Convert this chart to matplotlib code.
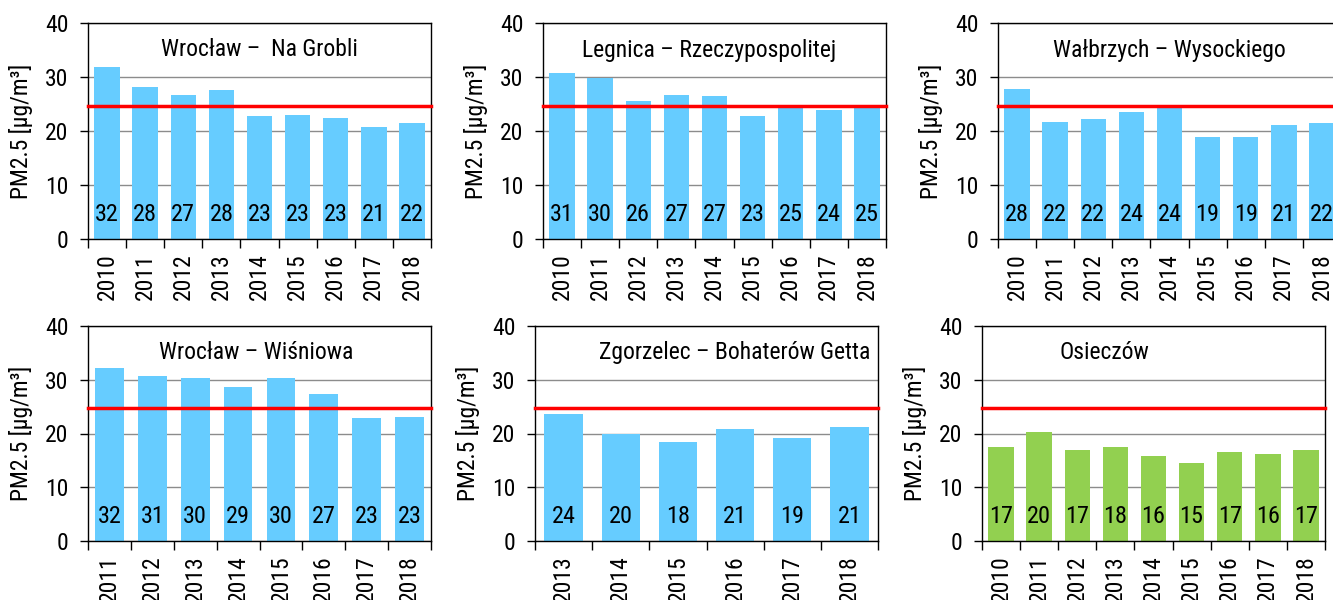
"""
PM2.5 annual means at six stations, 2010-2018, vs. the 25 ug/m3 limit.

Six bar panels (2x3), value printed at the foot of each bar, red line
for the limit value.
"""
#%%
import matplotlib
matplotlib.use("Agg")  # no display
import matplotlib.pyplot as plt
from matplotlib.ticker import FixedLocator

# ============================================================
# ==================== DATA ==================================
# ============================================================

LIMIT = 24.7  # red line, as drawn in the source

# Wrocław – Na Grobli
years_grobli = ['2010', '2011', '2012', '2013', '2014', '2015', '2016', '2017', '2018']
vals_grobli = [31.9, 28.1, 26.7, 27.6, 22.8, 22.9, 22.4, 20.7, 21.4]
lbls_grobli = ['32', '28', '27', '28', '23', '23', '23', '21', '22']

# Legnica – Rzeczypospolitej
years_legnica = ['2010', '2011', '2012', '2013', '2014', '2015', '2016', '2017', '2018']
vals_legnica = [30.7, 29.9, 25.5, 26.7, 26.4, 22.8, 24.5, 23.8, 24.6]
lbls_legnica = ['31', '30', '26', '27', '27', '23', '25', '24', '25']

# Wałbrzych – Wysockiego
years_walbrzych = ['2010', '2011', '2012', '2013', '2014', '2015', '2016', '2017', '2018']
vals_walbrzych = [27.8, 21.6, 22.3, 23.6, 24.4, 18.8, 18.8, 21.2, 21.4]
lbls_walbrzych = ['28', '22', '22', '24', '24', '19', '19', '21', '22']

# Wrocław – Wiśniowa
years_wisniowa = ['2011', '2012', '2013', '2014', '2015', '2016', '2017', '2018']
vals_wisniowa = [32.2, 30.7, 30.3, 28.6, 30.3, 27.3, 22.9, 23.1]
lbls_wisniowa = ['32', '31', '30', '29', '30', '27', '23', '23']

# Zgorzelec – Bohaterów Getta
years_zgorzelec = ['2013', '2014', '2015', '2016', '2017', '2018']
vals_zgorzelec = [23.6, 20.0, 18.4, 20.8, 19.1, 21.2]
lbls_zgorzelec = ['24', '20', '18', '21', '19', '21']

# Osieczów
years_osieczow = ['2010', '2011', '2012', '2013', '2014', '2015', '2016', '2017', '2018']
vals_osieczow = [17.4, 20.2, 16.9, 17.4, 15.9, 14.5, 16.6, 16.2, 16.9]
lbls_osieczow = ['17', '20', '17', '18', '16', '15', '17', '16', '17']

# ============================================================
# ==================== STYLE / LAYOUT ========================
# ============================================================

# narrow sans first (source uses Arial Narrow), wide sans as last resort
plt.rcParams['font.family'] = ['Liberation Sans Narrow', 'Roboto Condensed',
                               'Archivo Narrow', 'Liberation Sans', 'DejaVu Sans']

BLUE = '#66CCFF'
GREEN = '#92D050'
FS = 17

W, H = 1333, 600
# (left, top, right, bottom) in pixels, (title x, title ha)
PANELS = [
    ("Wrocław –  Na Grobli", years_grobli, vals_grobli, lbls_grobli, BLUE,
     (88, 23, 431, 239), (0.5, 'center')),
    ("Legnica – Rzeczypospolitej", years_legnica, vals_legnica, lbls_legnica, BLUE,
     (543, 23, 886, 239), (0.484, 'center')),
    ("Wałbrzych – Wysockiego", years_walbrzych, vals_walbrzych, lbls_walbrzych, BLUE,
     (998, 23, 1341, 239), (0.5, 'center')),
    ("Wrocław – Wiśniowa", years_wisniowa, vals_wisniowa, lbls_wisniowa, BLUE,
     (88, 326, 431, 541), (0.49, 'center')),
    ("Zgorzelec – Bohaterów Getta", years_zgorzelec, vals_zgorzelec, lbls_zgorzelec, BLUE,
     (535, 326, 878, 541), (0.977, 'right')),
    ("Osieczów", years_osieczow, vals_osieczow, lbls_osieczow, GREEN,
     (982, 326, 1325, 541), (0.227, 'left')),
]


#%%
def plot_panel(fig, title, years, vals, lbls, color, box, title_pos):
    l, t, r, b = box
    ax = fig.add_axes([l / W, 1 - b / H, (r - l) / W, (b - t) / H])
    n = len(years)
    x = list(range(n))

    ax.bar(x, vals, width=0.67, color=color, zorder=2)
    ax.axhline(LIMIT, color='#FF0000', linewidth=2.5, zorder=3, clip_on=False)

    for xi, s in zip(x, lbls):
        ax.text(xi, 4.6, s, ha='center', va='center', fontsize=FS + 0.5, zorder=4)

    ax.set_xlim(-0.5, n - 0.5)
    ax.set_ylim(0, 40)
    ax.set_yticks([0, 10, 20, 30, 40])
    ax.yaxis.grid(True, color='#8c8c8c', linewidth=1.0, zorder=0)
    ax.set_axisbelow(True)

    # year labels at the centres, tick marks at the category edges
    ax.set_xticks(x)
    ax.set_xticklabels(years, rotation=90, fontsize=FS)
    ax.xaxis.set_minor_locator(FixedLocator([i - 0.5 for i in range(n + 1)]))
    ax.tick_params(axis='x', which='major', length=0, pad=10)
    ax.tick_params(axis='x', which='minor', length=6.5, width=1.0, direction='out')
    ax.tick_params(axis='y', length=6, width=1.0, direction='out', pad=8, labelsize=FS)

    for sp in ax.spines.values():
        sp.set_color('black')
        sp.set_linewidth(1.0)

    ax.set_ylabel('PM2.5 [µg/m³]', fontsize=FS)
    ax.yaxis.set_label_coords(-0.16, 0.5)

    ax.text(title_pos[0], 35, title, transform=ax.get_yaxis_transform(),
            ha=title_pos[1], va='center', fontsize=FS)
    return ax


# ============================================================
# ==================== MAIN ==================================
# ============================================================

#%%
if __name__ == "__main__":
    fig = plt.figure(figsize=(W / 100, H / 100), dpi=100)
    for title, years, vals, lbls, color, box, tpos in PANELS:
        plot_panel(fig, title, years, vals, lbls, color, box, tpos)
    fig.savefig('out.png', dpi=100)
    plt.close(fig)
